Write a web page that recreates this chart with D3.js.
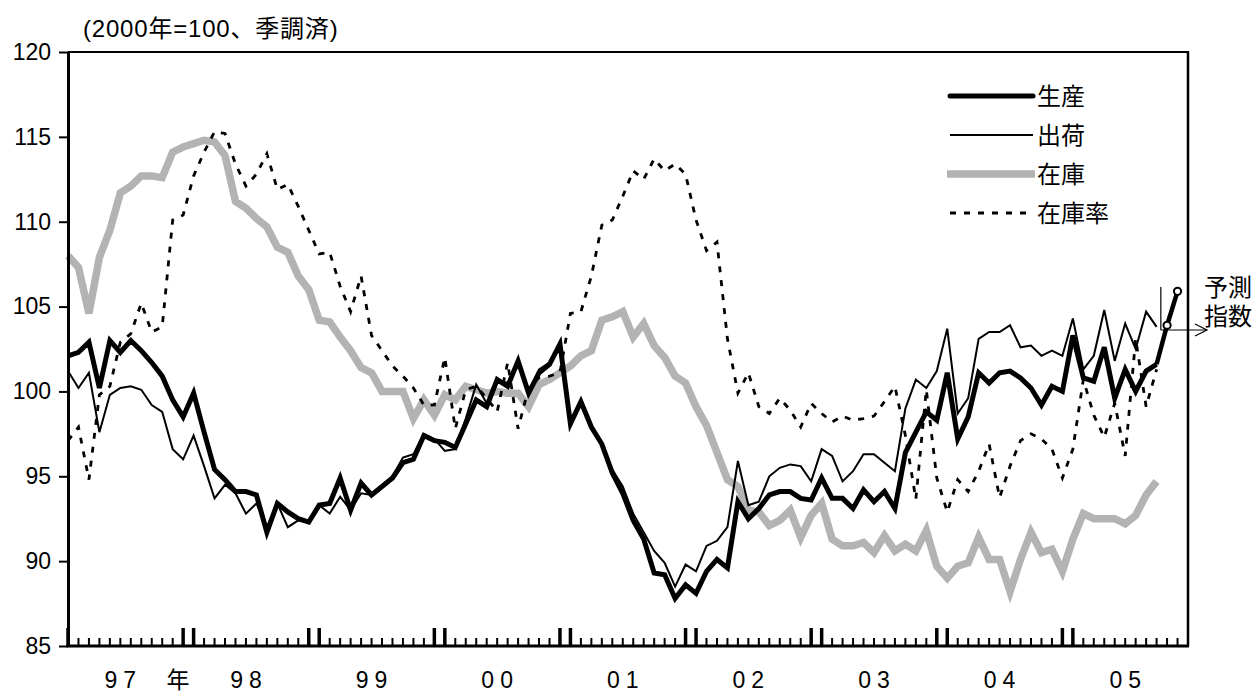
<!DOCTYPE html>
<html><head><meta charset="utf-8">
<script src="https://cdn.jsdelivr.net/npm/d3@7"></script>
<style>
html,body{margin:0;padding:0;background:#fff;}
svg{display:block;font-family:"Liberation Sans",Arial,"Noto Sans CJK JP",sans-serif;}
</style></head><body>
<svg id="chart" width="1259" height="692"></svg>
<script>
// ---- data (monthly, 1997-01 .. 2005-09; 2000=100, seasonally adjusted) ----
const years = ["1997","1998","1999","2000","2001","2002","2003","2004","2005"];
const monthNums = ["01","02","03","04","05","06","07","08","09","10","11","12"];
const yearLabels = ["97","98","99","00","01","02","03","04","05"];
const yTicks = [85,90,95,100,105,110,115,120];
const seriesNames = ["生産","出荷","在庫","在庫率"];

const production = [
 102.1,102.3,102.9,100.2,103.0,102.3,103.0,102.4,101.7,100.9,99.5,98.5,
 99.9,97.6,95.4,94.8,94.1,94.1,93.9,91.7,93.4,92.9,92.5,92.3,
 93.3,93.4,94.9,93.0,94.6,93.9,94.4,94.9,95.8,96.0,97.4,97.1,
 97.0,96.7,98.1,99.5,99.1,100.7,100.3,101.8,99.9,101.1,101.6,102.8,
 98.1,99.4,97.9,96.9,95.2,94.0,92.4,91.3,89.3,89.2,87.8,88.6,
 88.1,89.4,90.1,89.6,93.5,92.5,93.1,93.9,94.1,94.1,93.7,93.6,
 94.9,93.7,93.7,93.1,94.2,93.5,94.1,93.1,96.4,97.6,98.8,98.3,
 101.1,97.2,98.5,101.1,100.5,101.1,101.2,100.8,100.2,99.2,100.3,100.0,
 103.3,100.8,100.6,102.6,99.6,101.3,100.0,101.2,101.6];
const shipments = [
 101.2,100.2,101.1,97.6,99.8,100.2,100.3,100.1,99.2,98.8,96.6,96.0,
 97.4,95.6,93.7,94.5,94.0,92.8,93.4,92.0,93.4,92.0,92.4,92.3,
 93.3,92.8,93.8,93.0,94.0,93.9,94.4,95.0,96.1,96.3,97.5,97.2,
 96.5,96.6,98.4,100.4,99.3,100.7,100.5,101.6,99.9,101.3,101.7,102.6,
 98.1,99.3,97.9,97.0,95.4,94.4,92.8,91.7,90.6,89.9,88.5,89.8,
 89.4,90.9,91.2,92.0,95.9,93.3,93.5,95.0,95.5,95.7,95.6,94.7,
 96.6,96.2,94.7,95.3,96.3,96.3,95.8,95.3,99.0,100.7,100.2,101.2,
 103.7,98.7,99.6,103.1,103.5,103.5,103.9,102.6,102.7,102.1,102.4,102.1,
 104.3,101.3,102.1,104.8,101.8,104.0,102.5,104.7,103.8];
const inventory = [
 108.0,107.3,104.6,107.9,109.5,111.7,112.1,112.7,112.7,112.6,114.1,114.4,
 114.6,114.8,114.7,113.9,111.2,110.8,110.2,109.7,108.5,108.2,106.8,106.0,
 104.2,104.1,103.2,102.4,101.4,101.1,100.0,100.0,100.0,98.4,99.5,98.6,
 99.8,99.5,100.3,100.1,99.9,100.0,99.9,99.9,99.1,100.4,100.7,101.1,
 101.5,102.1,102.4,104.2,104.4,104.7,103.2,104.0,102.7,102.0,100.9,100.5,
 99.1,98.0,96.4,94.8,94.4,93.0,92.9,92.1,92.4,93.0,91.4,92.7,
 93.4,91.3,90.9,90.9,91.1,90.5,91.5,90.6,91.0,90.6,91.8,89.7,
 89.0,89.7,89.9,91.4,90.1,90.1,88.2,90.1,91.7,90.5,90.7,89.4,
 91.3,92.8,92.5,92.5,92.5,92.2,92.7,93.9,94.7];
const inventoryRatio = [
 97.1,97.9,94.8,99.8,100.3,102.9,103.4,105.2,103.5,103.8,110.1,110.4,
 112.7,114.1,115.3,115.2,113.4,112.1,112.8,114.0,111.9,112.2,110.9,109.5,
 108.1,108.2,106.2,104.7,106.8,103.3,102.4,101.5,100.9,100.2,99.2,99.2,
 102.0,97.8,100.1,100.3,99.6,98.8,101.7,97.8,100.2,100.8,100.9,101.1,
 104.6,104.7,106.8,109.8,110.1,111.5,113.0,112.5,113.7,113.0,113.4,112.8,
 110.1,108.3,108.8,103.1,99.9,101.1,99.1,98.7,99.6,98.9,97.9,99.3,
 98.7,98.2,98.55,98.3,98.4,98.55,99.4,100.3,97.4,93.65,100.1,94.9,
 92.9,94.8,94.1,95.3,96.9,93.75,95.6,97.1,97.5,97.2,96.6,94.9,
 96.6,100.7,98.6,97.3,99.3,96.2,103.1,99.1,101.3];
// production forecast index (予測指数)
const forecastMonths = ["2005-10","2005-11"];
const forecastValues = [103.9,105.9];

// ---- scales ----
const months = [];
years.forEach(yv => monthNums.forEach(m => months.push(yv + "-" + m)));
const L = 68, R = 1188, T = 52, B = 646;
const x = d3.scalePoint().domain(months).range([L, R]);
const y = d3.scaleLinear().domain([85, 120]).range([B, T]);

const svg = d3.select("#chart");
const toPts = arr => arr.map((v, i) => ({m: months[i], v}));
const line = d3.line().x(d => x(d.m)).y(d => y(d.v));

// ---- title ----
svg.append("text").attr("x", 83).attr("y", 37)
  .attr("font-size", 24).attr("letter-spacing", "0.8px")
  .text("(2000年=100、季調済)");

// ---- series ----
const plot = svg.append("g");
plot.append("path").datum(toPts(inventory)).attr("d", line)
  .attr("fill", "none").attr("stroke", "#b3b3b3").attr("stroke-width", 7.5);
plot.append("path").datum(toPts(inventoryRatio)).attr("d", line)
  .attr("fill", "none").attr("stroke", "#000").attr("stroke-width", 2.8)
  .attr("stroke-dasharray", "6,8");
plot.append("path").datum(toPts(shipments)).attr("d", line)
  .attr("fill", "none").attr("stroke", "#000").attr("stroke-width", 2);
plot.append("path").datum(toPts(production)).attr("d", line)
  .attr("fill", "none").attr("stroke", "#000").attr("stroke-width", 5);

// forecast
const lastIdx = production.length - 1;
const fPts = [{m: months[lastIdx], v: production[lastIdx]}]
  .concat(forecastMonths.map((m, i) => ({m, v: forecastValues[i]})));
plot.append("path").datum(fPts).attr("d", line)
  .attr("fill", "none").attr("stroke", "#000").attr("stroke-width", 4.5);
plot.selectAll("circle.fc").data(fPts.slice(1)).enter().append("circle")
  .attr("class", "fc").attr("cx", d => x(d.m)).attr("cy", d => y(d.v)).attr("r", 3.6)
  .attr("fill", "#fff").attr("stroke", "#000").attr("stroke-width", 2);

// ---- frame / axes ----
const yAxis = d3.axisLeft(y).tickValues(yTicks).tickSize(9).tickSizeOuter(0)
  .tickPadding(8).tickFormat(d3.format("d"));
const ga = svg.append("g").attr("transform", `translate(${L},0)`).call(yAxis);
ga.select(".domain").attr("stroke-width", 3);
ga.selectAll(".tick line").attr("stroke-width", 2);
ga.selectAll(".tick text").attr("font-size", 23).attr("fill", "#000")
  .attr("font-family", "'Liberation Sans',Arial,sans-serif");

svg.append("line").attr("x1", L).attr("x2", R + 1).attr("y1", T).attr("y2", T)
  .attr("stroke", "#000").attr("stroke-width", 2);
svg.append("line").attr("x1", R).attr("x2", R).attr("y1", T).attr("y2", B)
  .attr("stroke", "#000").attr("stroke-width", 2.5);
svg.append("line").attr("x1", L - 1.5).attr("x2", R + 1).attr("y1", B).attr("y2", B)
  .attr("stroke", "#000").attr("stroke-width", 3);

// month ticks
const tickMonths = months.slice(0, months.length - 1);
svg.append("g").selectAll("line").data(tickMonths).enter().append("line")
  .attr("x1", d => x(d)).attr("x2", d => x(d))
  .attr("y1", B)
  .attr("y2", d => { const mm = d.slice(5); return (mm === "01" || mm === "12") ? B - 18 : B - 8; })
  .attr("stroke", "#000")
  .attr("stroke-width", d => { const mm = d.slice(5); return (mm === "01" || mm === "12") ? 3.5 : 2; });

// year labels
svg.append("g").selectAll("text").data(yearLabels).enter().append("text")
  .attr("x", (d, i) => x(years[i] + "-06")).attr("y", 688).attr("dx", 3)
  .attr("text-anchor", "middle").attr("font-size", 23).attr("letter-spacing", "6px")
  .text(d => d);
svg.append("text")
  .attr("x", (x("1997-11") + x("1997-12")) / 2).attr("y", 688)
  .attr("text-anchor", "middle").attr("font-size", 23).text("年");

// ---- legend ----
const legY = [96, 135, 174, 213];
const lg = svg.append("g");
const legStyles = [
  {stroke: "#000", w: 5, dash: null, cap: "round"},
  {stroke: "#000", w: 2, dash: null, cap: "butt"},
  {stroke: "#b3b3b3", w: 7.5, dash: null, cap: "butt"},
  {stroke: "#000", w: 2.8, dash: "6,8", cap: "butt"}
];
seriesNames.forEach((name, i) => {
  const s = legStyles[i];
  lg.append("line").attr("x1", i === 2 ? 947 : 950).attr("x2", i === 2 ? 1035 : 1033)
    .attr("y1", legY[i]).attr("y2", legY[i])
    .attr("stroke", s.stroke).attr("stroke-width", s.w)
    .attr("stroke-linecap", s.cap).attr("stroke-dasharray", s.dash);
  lg.append("text").attr("x", 1037).attr("y", legY[i]).attr("dy", "0.36em")
    .attr("font-size", 24).text(name);
});

// ---- forecast annotation ----
const ax = (x("2005-09") + x("2005-10")) / 2 - 1;
const ay = 330;
svg.append("line").attr("x1", ax).attr("x2", ax).attr("y1", 287).attr("y2", ay)
  .attr("stroke", "#000").attr("stroke-width", 1.2);
svg.append("line").attr("x1", ax).attr("x2", 1207).attr("y1", ay).attr("y2", ay)
  .attr("stroke", "#000").attr("stroke-width", 1.2);
svg.append("path").attr("d", `M1195,${ay - 6}L1207,${ay}L1195,${ay + 6}`)
  .attr("fill", "none").attr("stroke", "#000").attr("stroke-width", 1.2);
svg.append("text").attr("x", 1204).attr("y", 287).attr("dy", "0.36em")
  .attr("font-size", 24).text("予測");
svg.append("text").attr("x", 1204).attr("y", 316).attr("dy", "0.36em")
  .attr("font-size", 24).text("指数");
</script>
</body></html>
